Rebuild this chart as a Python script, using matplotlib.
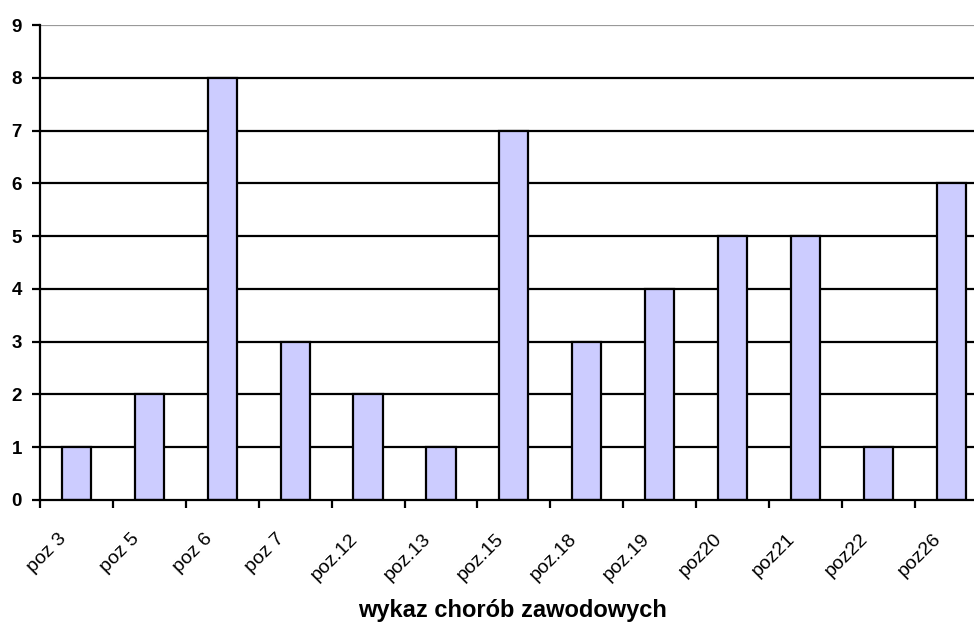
import matplotlib
matplotlib.use("Agg")
import matplotlib.pyplot as plt
import matplotlib.transforms as mtrans
import numpy as np

categories = ["poz 3", "poz 5", "poz 6", "poz 7", "poz.12", "poz.13", "poz.15",
              "poz.18", "poz.19", "poz20", "poz21", "poz22", "poz26"]
values = [1, 2, 8, 3, 2, 1, 7, 3, 4, 5, 5, 1, 6]
y_ticks = list(range(0, 10))
x_title = "wykaz chorób zawodowych"

plt.rcParams['font.family'] = ['Liberation Sans', 'DejaVu Sans']

fig = plt.figure(figsize=(9.74, 6.26), dpi=100)
W, H = 974, 626
left, right, top, bottom = 40, 987.7, 25, 500
ax = fig.add_axes([left / W, (H - bottom) / H, (right - left) / W, (bottom - top) / H])

n = len(categories)
x = np.arange(n)
ax.set_xlim(-0.5, n - 0.5)
ax.set_ylim(0, 9)

for yv in y_ticks[1:-1]:
    ax.axhline(yv, color='black', lw=1.6, zorder=1)
ax.axhline(9, color='#999999', lw=1.6, zorder=1)

ax.bar(x, values, width=0.4, color='#CCCCFF', edgecolor='black', linewidth=1.6, zorder=2)

for s in ['top', 'right']:
    ax.spines[s].set_visible(False)
for s in ['left', 'bottom']:
    ax.spines[s].set_linewidth(1.6)
    ax.spines[s].set_zorder(3)

ax.set_yticks(y_ticks)
ax.set_yticklabels([str(v) for v in y_ticks], fontsize=13.5, fontweight='bold')
ax.tick_params(axis='y', length=6, width=1.6, pad=7)

ax.set_xticks(x)
ax.set_xticklabels(categories, rotation=45, ha='right', va='top',
                   rotation_mode='anchor', fontsize=14)
ax.tick_params(axis='x', which='major', length=0, pad=22)
ax.set_xticks(np.arange(n + 1) - 0.5, minor=True)
ax.tick_params(axis='x', which='minor', length=6, width=1.6, direction='out')
shift = mtrans.ScaledTranslation(-19 / 100, 0, fig.dpi_scale_trans)
for lbl in ax.get_xticklabels():
    lbl.set_transform(lbl.get_transform() + shift)

fig.text(513 / W, 1 - 611 / H, x_title, fontsize=17, fontweight='bold',
         ha='center', va='center')

fig.savefig("out.png", dpi=100)
